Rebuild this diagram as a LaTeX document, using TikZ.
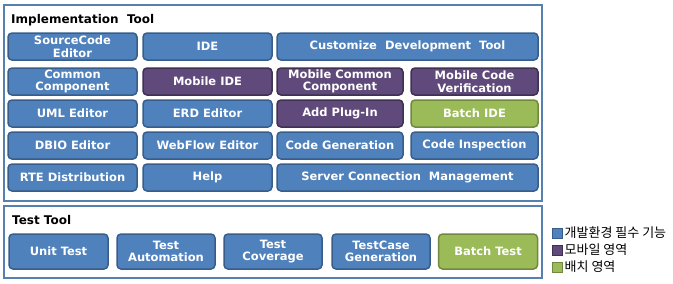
\documentclass[tikz,border=0pt]{standalone}
\usepackage{fontspec}
\usetikzlibrary{positioning}
\setmainfont{DejaVu Sans}
\newfontfamily\korfont{Noto Sans CJK KR}
\definecolor{frameblue}{HTML}{5580B0}
\definecolor{coreblue}{HTML}{4F81BD}
\definecolor{coreline}{HTML}{385D8A}
\definecolor{mobpurple}{HTML}{604A7B}
\definecolor{mobline}{HTML}{3F3151}
\definecolor{batchgreen}{HTML}{9BBB59}
\definecolor{batchline}{HTML}{71893F}
\tikzset{
  btn/.style={draw,rounded corners=4pt,line width=1.5pt,text=white,align=center,
    font=\fontsize{11.5}{12.5}\selectfont\bfseries,inner sep=0pt},
  core/.style={btn,fill=coreblue,draw=coreline},
  mobile/.style={btn,fill=mobpurple,draw=mobline},
  batch/.style={btn,fill=batchgreen,draw=batchline},
  legbox/.style={draw,line width=1pt,minimum size=10pt,inner sep=0pt},
}
\begin{document}
\begin{tikzpicture}[x=1pt,y=-1pt]
\useasboundingbox (0,0) rectangle (673,284);
\draw[frameblue,line width=2pt] (4,5) rectangle (542,201);
\draw[frameblue,line width=2pt] (4,206) rectangle (542,278);
\node[anchor=west,inner sep=0pt,font=\fontsize{12}{14}\selectfont\bfseries] (impl) at (11,20) {Implementation\ \ Tool};
\node[anchor=west,inner sep=0pt,font=\fontsize{12}{14}\selectfont\bfseries] (test) at (12,220) {Test Tool};
% implementation tool
\node[core,minimum width=129pt,minimum height=27pt] (src) at (72.5,46.5) {SourceCode\\Editor};
\node[core,minimum width=129pt,minimum height=27pt] (ide) at (207.5,46.5) {IDE};
\node[core,minimum width=261pt,minimum height=27pt] (cust) at (407.5,46.5) {Customize\ \ Development\ \ Tool};
\node[core,minimum width=129pt,minimum height=27pt] (comm) at (72.5,81.5) {Common\\Component};
\node[mobile,minimum width=129pt,minimum height=27pt] (mide) at (207.5,81.5) {Mobile IDE};
\node[mobile,minimum width=126pt,minimum height=27pt] (mcomm) at (340,81.5) {Mobile Common\\Component};
\node[mobile,minimum width=127pt,minimum height=27pt] (mver) at (474.5,81.5) {Mobile Code\\Verification};
\node[core,minimum width=129pt,minimum height=27pt] (uml) at (72.5,113.5) {UML Editor};
\node[core,minimum width=129pt,minimum height=27pt] (erd) at (207.5,113.5) {ERD Editor};
\node[mobile,minimum width=126pt,minimum height=27pt] (plug) at (340,113.5) {Add Plug-In};
\node[batch,minimum width=127pt,minimum height=27pt] (bide) at (474.5,113.5) {Batch IDE};
\node[core,minimum width=129pt,minimum height=27pt] (dbio) at (72.5,145.5) {DBIO Editor};
\node[core,minimum width=129pt,minimum height=27pt] (flow) at (207.5,145.5) {WebFlow Editor};
\node[core,minimum width=126pt,minimum height=27pt] (gen) at (340,145.5) {Code Generation};
\node[core,minimum width=127pt,minimum height=27pt] (insp) at (474.5,145.5) {Code Inspection};
\node[core,minimum width=129pt,minimum height=27pt] (rte) at (72.5,177.5) {RTE Distribution};
\node[core,minimum width=129pt,minimum height=27pt] (help) at (207.5,177.5) {Help};
\node[core,minimum width=261pt,minimum height=27pt] (conn) at (407.5,177.5) {Server Connection\ \ Management};
% test tool
\node[core,minimum width=99pt,minimum height=35pt] (unit) at (58.5,251.5) {Unit Test};
\node[core,minimum width=98pt,minimum height=35pt] (auto) at (166,251.5) {Test\\Automation};
\node[core,minimum width=98pt,minimum height=35pt] (cov) at (273,251.5) {Test\\Coverage};
\node[core,minimum width=98pt,minimum height=35pt] (tcg) at (381,251.5) {TestCase\\Generation};
\node[batch,minimum width=99pt,minimum height=35pt] (btest) at (488,251.5) {Batch Test};
% legend
\node[legbox,fill=coreblue,draw=coreline] (l1) at (557,233) {};
\node[legbox,fill=mobpurple,draw=mobline] (l2) at (557,250) {};
\node[legbox,fill=batchgreen,draw=batchline] (l3) at (557,267) {};
\node[right=2pt of l1,inner sep=0pt,font=\korfont\fontsize{13}{14}\selectfont] (t1) {개발환경 필수 기능};
\node[right=2pt of l2,inner sep=0pt,font=\korfont\fontsize{13}{14}\selectfont] (t2) {모바일 영역};
\node[right=2pt of l3,inner sep=0pt,font=\korfont\fontsize{13}{14}\selectfont] (t3) {배치 영역};
\end{tikzpicture}
\end{document}
